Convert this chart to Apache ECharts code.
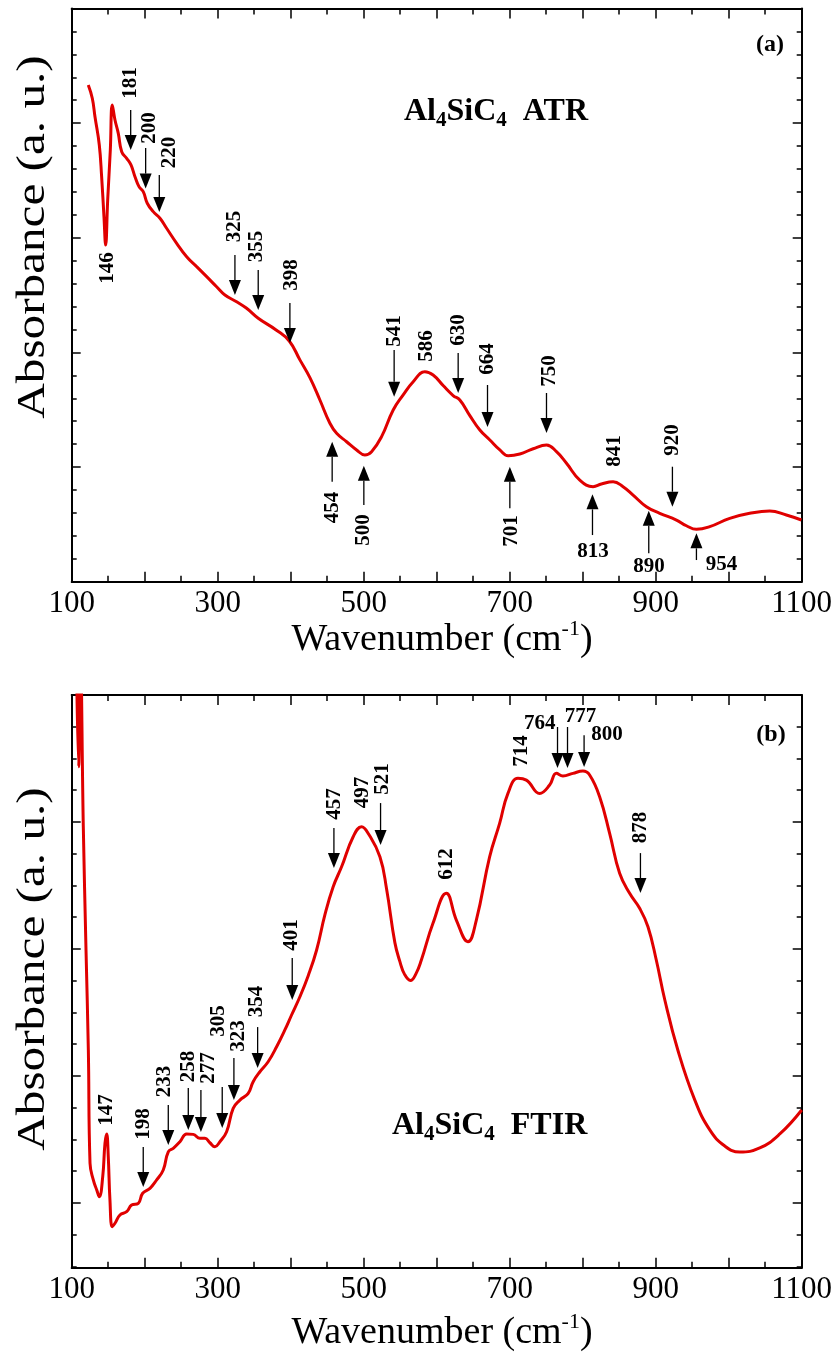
<!DOCTYPE html>
<html>
<head>
<meta charset="utf-8">
<script src="https://cdn.jsdelivr.net/npm/echarts@6/dist/echarts.min.js"></script>
<style>
html,body{margin:0;padding:0;background:#fff;}
#chart{width:839px;height:1352px;}
</style>
</head>
<body>
<div id="chart"></div>
<script>
// ---------- DATA ----------
// (a) ATR spectrum: [wavenumber cm-1, absorbance (a.u.)]
const atrSpectrum = [
  [122.7,4.333],[128.2,4.217],[131.9,4.056],[137.8,3.809],[141,3.533],[144.2,3.184],[146.5,2.937],
  [149.3,3.330],[152.9,3.766],[155.6,4.158],[159.3,4.027],[163.8,3.911],[168.5,3.751],[175.3,3.693],
  [181.2,3.635],[186.7,3.533],[192.2,3.446],[198,3.402],[203.5,3.301],[211.7,3.228],[220.9,3.170],
  [230,3.083],[243.8,2.952],[257.5,2.835],[271.2,2.748],[284.9,2.661],[298.5,2.573],[309.9,2.501],
  [325.9,2.442],[339.6,2.385],[355.5,2.298],[380,2.196],[398,2.100],[412.6,1.935],[426.3,1.780],
  [440,1.585],[453.7,1.382],[462.9,1.294],[476.6,1.221],[490.3,1.149],[501.6,1.105],[510.8,1.134],
  [524.5,1.265],[540.4,1.498],[554.1,1.630],[567.8,1.745],[583.8,1.832],[595.1,1.803],[608.8,1.711],
  [622.5,1.624],[631.7,1.585],[645.4,1.449],[659.1,1.323],[672.8,1.236],[686.5,1.149],[697.9,1.099],
  [713.9,1.114],[732.2,1.160],[750.4,1.192],[764.1,1.134],[777.8,1.033],[796,0.887],[814.2,0.829],
  [825.6,0.852],[841.6,0.872],[855.3,0.829],[869,0.756],[887.3,0.654],[905.5,0.597],[928.4,0.538],
  [942.1,0.488],[955.8,0.457],[974,0.480],[1001.4,0.553],[1028.8,0.597],[1056.2,0.617],[1079,0.582],
  [1099.6,0.538]
];
// (b) FTIR spectrum: [wavenumber cm-1, absorbance (a.u.)]
const ftirSpectrum = [
  [106.5,4.8],[109.5,3.945],[112,4.8],[115.9,3.472],[119.6,2.502],[122.8,1.714],[125.1,0.822],
  [129.6,0.691],[134.3,0.612],[137.8,0.559],[142.5,0.717],[145.6,0.980],[147.9,1.053],[150.1,0.874],
  [152.4,0.533],[155.6,0.323],[159.3,0.350],[166.1,0.415],[175.3,0.441],[182.1,0.494],[191.2,0.507],
  [197.2,0.586],[207.2,0.625],[216.4,0.691],[225.4,0.769],[232.3,0.913],[239.1,0.940],[248.3,0.992],
  [257.4,1.053],[266.5,1.050],[275.6,1.019],[282.5,1.019],[289.3,0.984],[296.2,0.953],[303,0.992],
  [312.2,1.071],[321.2,1.255],[330.4,1.320],[341.8,1.373],[348.6,1.465],[357.8,1.543],[369.1,1.622],
  [380.7,1.740],[392,1.872],[401.2,1.990],[412.6,2.134],[424,2.300],[435.4,2.500],[446.9,2.780],
  [458.2,3.0],[469.7,3.157],[485.6,3.394],[497.1,3.472],[506.2,3.420],[522.2,3.236],[531.4,2.980],
  [542.7,2.560],[549.6,2.410],[556,2.310],[564,2.262],[572,2.320],[579,2.423],[594.9,2.712],
  [613.2,2.948],[626.9,2.738],[642.8,2.567],[654.3,2.738],[672.5,3.236],[686.2,3.499],[697.6,3.735],
  [711.3,3.854],[722.8,3.840],[741,3.735],[754.7,3.801],[763.9,3.893],[772.9,3.872],[786.6,3.893],
  [800.3,3.911],[809.5,3.880],[823.2,3.709],[836.9,3.420],[850.6,3.106],[864.3,2.948],[878,2.830],
  [889.4,2.685],[900.8,2.423],[912.5,2.108],[930.3,1.714],[953.6,1.320],[974.1,1.085],[994.7,0.958],
  [1015.2,0.911],[1042.6,0.943],[1070,1.053],[1100,1.242]
];
// Band labels: [text, label wavenumber, label level, vertical?, arrow wavenumber, arrow tip level, arrow tail level]
const atrBands = [
  ['146',149.3,2.736,1,null,null,null],
  ['181',181.2,4.350,1,180.8,3.766,4.115],
  ['200',206.3,3.958,1,201.3,3.429,3.783],
  ['220',234.6,3.744,1,220,3.225,3.548],
  ['325',323.6,3.098,1,323.6,2.501,2.850],
  ['355',353.3,2.924,1,355.5,2.370,2.719],
  ['398',401.2,2.675,1,398.9,2.082,2.431],
  ['454',457.8,0.647,1,456.8,1.221,0.872],
  ['500',500.2,0.451,1,500.2,1.012,0.669],
  ['541',541.7,2.187,1,541.7,1.614,2.021],
  ['586',586.1,2.056,1,null,null,null],
  ['630',629.4,2.196,1,629.4,1.646,1.995],
  ['664',669.6,1.943,1,669.6,1.349,1.716],
  ['750',754,1.838,1,750.4,1.297,1.646],
  ['701',702.5,0.442,1,700.2,1.003,0.640],
  ['841',843.9,1.140,1,null,null,null],
  ['813',814.2,0.262,0,813.4,0.762,0.407],
  ['890',890.9,0.131,0,890.5,0.619,0.248],
  ['920',923.8,1.236,1,922.9,0.654,1.003],
  ['954',990.1,0.146,0,955.8,0.422,0.189]
];
const ftirBands = [
  ['147',147.9,1.242,1,null,null,null],
  ['198',198,1.131,1,198,0.635,0.950],
  ['233',227.8,1.466,1,232.3,0.966,1.281],
  ['258',259.7,1.584,1,259.7,1.084,1.415],
  ['277',287,1.572,1,277,1.069,1.399],
  ['305',300.7,1.943,1,306.2,1.100,1.423],
  ['323',328.1,1.824,1,322.2,1.320,1.651],
  ['354',353.3,2.096,1,354.7,1.572,1.895],
  ['401',401.2,2.620,1,402.1,2.108,2.439],
  ['457',460.5,3.651,1,459.2,3.147,3.462],
  ['497',498.5,3.742,1,null,null,null],
  ['521',525.9,3.848,1,523.1,3.328,3.659],
  ['612',613.5,3.179,1,null,null,null],
  ['714',716.2,4.069,1,null,null,null],
  ['764',741.2,4.287,0,765.5,3.935,4.258],
  ['777',797,4.344,0,779.2,3.935,4.258],
  ['800',833.4,4.202,0,801.9,3.943,4.194],
  ['878',879.1,3.466,1,879.1,2.950,3.265]
];
const xTickValues = [100,300,500,700,900,1100];

// ---------- CHART ----------
const FONT = '"Liberation Serif","Times New Roman",Times,serif';
const RED = '#e00000';
const chart = echarts.init(document.getElementById('chart'), null, {renderer:'canvas'});

function xAx(gridIndex, pos, labels){
  return {
    type:'value', gridIndex, position:pos, min:100, max:1100, interval:100,
    axisLine:{show:true, onZero:false, lineStyle:{color:'#000', width:2}},
    axisTick:{show:true, inside:true, length:10, lineStyle:{color:'#000', width:1.5}},
    minorTick:{show:true, splitNumber:2, length:6, lineStyle:{color:'#000', width:1.5}},
    splitLine:{show:false}, minorSplitLine:{show:false},
    axisLabel:{show:labels, margin:7, color:'#000', fontSize:31, fontFamily:FONT,
      showMinLabel:true, showMaxLabel:true, hideOverlap:false,
      formatter:v => (xTickValues.indexOf(v) >= 0 ? String(v) : '')}
  };
}
function yTickAx(gridIndex, pos, extra){
  return Object.assign({
    type:'value', gridIndex, position:pos,
    axisLine:{show:true, onZero:false, lineStyle:{color:'#000', width:2}},
    axisTick:{show:true, inside:true, length:9, lineStyle:{color:'#000', width:1.5}},
    minorTick:{show:true, length:5, lineStyle:{color:'#000', width:1.5}},
    splitLine:{show:false}, minorSplitLine:{show:false},
    axisLabel:{show:false}
  }, extra);
}

function bandSeries(bands, xi, yi){
  return {
    type:'custom', xAxisIndex:xi, yAxisIndex:yi, clip:false, silent:true, z:5,
    data: bands.map(b => [b[1], b[2]]),
    encode:{x:0, y:1},
    renderItem:(params, api) => {
      const b = bands[params.dataIndex];
      const children = [];
      if (b[4] != null) {
        const tip = api.coord([b[4], b[5]]);
        const tail = api.coord([b[4], b[6]]);
        const dir = tip[1] > tail[1] ? 1 : -1;
        const hl = 15, hw = 6;
        const base = tip[1] - dir*hl;
        children.push({type:'line', shape:{x1:tail[0], y1:tail[1], x2:tip[0], y2:base},
          style:{stroke:'#000', lineWidth:1.3}});
        children.push({type:'polygon', shape:{points:[[tip[0],tip[1]],[tip[0]-hw,base],[tip[0]+hw,base]]},
          style:{fill:'#000'}});
      }
      const lp = api.coord([b[1], b[2]]);
      children.push({type:'text', x:lp[0], y:lp[1], rotation: b[3] ? Math.PI/2 : 0,
        style:{text:b[0], fill:'#000', font:'bold 21px ' + FONT, align:'center', verticalAlign:'middle'}});
      return {type:'group', children};
    }
  };
}

const option = {
  backgroundColor:'#fff',
  animation:false,
  grid:[
    {left:71.7, top:8.5, width:730, height:573.2, containLabel:false},
    {left:71.7, top:695, width:730, height:572.7, containLabel:false}
  ],
  xAxis:[
    xAx(0,'bottom',true), xAx(0,'top',false),
    xAx(1,'bottom',true), xAx(1,'top',false)
  ],
  yAxis:[
    yTickAx(0,'left',{min:0, max:5, interval:1, minorTick:{show:true, splitNumber:5, length:5, lineStyle:{color:'#000', width:1.5}}}),
    yTickAx(0,'right',{min:0, max:5, interval:1, minorTick:{show:true, splitNumber:5, length:5, lineStyle:{color:'#000', width:1.5}}}),
    {type:'value', gridIndex:1, min:0, max:4.51, show:false},
    yTickAx(1,'left',{min:0, max:4.51, interval:1, inverse:true, minorTick:{show:true, splitNumber:4, length:5, lineStyle:{color:'#000', width:1.5}}}),
    yTickAx(1,'right',{min:0, max:4.51, interval:1, inverse:true, minorTick:{show:true, splitNumber:4, length:5, lineStyle:{color:'#000', width:1.5}}})
  ],
  series:[
    {type:'line', xAxisIndex:0, yAxisIndex:0, data:atrSpectrum, showSymbol:false, smooth:0.45,
      clip:true, lineStyle:{color:RED, width:3}, z:3},
    {type:'line', xAxisIndex:2, yAxisIndex:2, data:ftirSpectrum, showSymbol:false, smooth:0.45,
      clip:true, lineStyle:{color:RED, width:3}, z:3},
    bandSeries(atrBands, 0, 0),
    bandSeries(ftirBands, 2, 2)
  ],
  graphic:[
    {type:'text', x:33, y:237, rotation:Math.PI/2, scaleX:1.2,
      style:{text:'Absorbance (a. u.)', font:'41px ' + FONT, fill:'#000', align:'center', verticalAlign:'middle'}},
    {type:'text', x:33, y:969, rotation:Math.PI/2, scaleX:1.2,
      style:{text:'Absorbance (a. u.)', font:'41px ' + FONT, fill:'#000', align:'center', verticalAlign:'middle'}},
    {type:'text', x:442, y:640,
      style:{text:'{n|Wavenumber (cm}{s|-1}{n|)}', align:'center', verticalAlign:'middle',
        rich:{n:{fontSize:38, fontFamily:FONT, fill:'#000', lineHeight:44},
              s:{fontSize:22, fontFamily:FONT, fill:'#000', lineHeight:22, verticalAlign:'top'}}}},
    {type:'text', x:442, y:1333,
      style:{text:'{n|Wavenumber (cm}{s|-1}{n|)}', align:'center', verticalAlign:'middle',
        rich:{n:{fontSize:38, fontFamily:FONT, fill:'#000', lineHeight:44},
              s:{fontSize:22, fontFamily:FONT, fill:'#000', lineHeight:22, verticalAlign:'top'}}}},
    {type:'text', x:404, y:112,
      style:{text:'{n|Al}{s|4}{n|SiC}{s|4}{n|  ATR}', align:'left', verticalAlign:'middle',
        rich:{n:{fontSize:32, fontWeight:'bold', fontFamily:FONT, fill:'#000', lineHeight:38},
              s:{fontSize:21, fontWeight:'bold', fontFamily:FONT, fill:'#000', lineHeight:18, verticalAlign:'bottom'}}}},
    {type:'text', x:392, y:1126,
      style:{text:'{n|Al}{s|4}{n|SiC}{s|4}{n|  FTIR}', align:'left', verticalAlign:'middle',
        rich:{n:{fontSize:32, fontWeight:'bold', fontFamily:FONT, fill:'#000', lineHeight:38},
              s:{fontSize:21, fontWeight:'bold', fontFamily:FONT, fill:'#000', lineHeight:18, verticalAlign:'bottom'}}}},
    {type:'text', x:770, y:45,
      style:{text:'(a)', font:'bold 24px ' + FONT, fill:'#000', align:'center', verticalAlign:'middle'}},
    {type:'text', x:771, y:735,
      style:{text:'(b)', font:'bold 24px ' + FONT, fill:'#000', align:'center', verticalAlign:'middle'}}
  ]
};
chart.setOption(option);
</script>
</body>
</html>
